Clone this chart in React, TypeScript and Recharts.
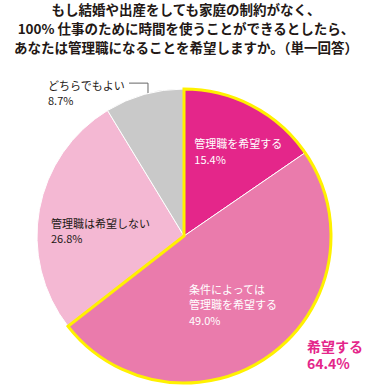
import React from 'react';
import { PieChart, Pie, Cell, Customized } from 'recharts';

const categories = ['管理職を希望する', '条件によっては管理職を希望する', '管理職は希望しない', 'どちらでもよい'];
const labelLines = [['管理職を希望する'], ['条件によっては', '管理職を希望する'], ['管理職は希望しない'], ['どちらでもよい']];
const values = [15.4, 49.0, 26.8, 8.7];
const groupNames = ['希望する', 'その他'];
const groupValues = [64.4, 35.5];
const titleLines = [
  'もし結婚や出産をしても家庭の制約がなく、',
  '100% 仕事のために時間を使うことができるとしたら、',
  'あなたは管理職になることを希望しますか。（単一回答）',
];

const colors = ['#E4268A', '#EA7BAC', '#F4B8D3', '#C9C9C9'];
const textColors = ['#ffffff', '#ffffff', '#231815', '#231815'];
const YELLOW = '#FFF100';
const FONT = '"Noto Sans CJK JP", "Noto Sans", sans-serif';

const data = categories.map((name, i) => ({ name, value: values[i], lines: labelLines[i] }));
const groupData = groupNames.map((name, i) => ({ name, value: groupValues[i] }));

// label anchor offsets (fraction of radius) for first line, relative to center
const labelOffsets = [
  [0.07, -0.63],
  [0.034, 0.36],
  [-0.905, -0.09],
  [-0.925, -1.03],
];

const CX = 184;
const CY = 236;
const R = 147;

const renderLabel = (props: any) => {
  const { cx, cy, outerRadius, index } = props;
  const d = data[index];
  const [fx, fy] = labelOffsets[index];
  const x = cx + fx * outerRadius;
  const y = cy + fy * outerRadius;
  const lines = [...d.lines, `${d.value.toFixed(1)}%`];
  return (
    <text x={x} y={y} fill={textColors[index]} fontSize={11} fontFamily={FONT} textAnchor="start" dominantBaseline="central">
      {lines.map((l, i) => (
        <tspan key={i} x={x} dy={i === 0 ? 0 : 15.5}>{l}</tspan>
      ))}
    </text>
  );
};

const Overlay = () => {
  const r = R;
  const p1 = [CX - 0.374 * r, CY - 1.04 * r];
  const p2 = [CX - 0.245 * r, CY - 1.04 * r];
  const p3 = [CX - 0.245 * r, CY - 0.918 * r];
  const gx = CX + 0.837 * r;
  const gy = CY + 0.75 * r;
  return (
    <g>
      {titleLines.map((t, i) => (
        <text key={i} x={186} y={9 + i * 19} textAnchor="middle" dominantBaseline="central" fontSize={13.5} fontWeight="bold" fill="#231815" fontFamily={FONT}>
          {t}
        </text>
      ))}
      <polyline points={`${p1[0]},${p1[1]} ${p2[0]},${p2[1]} ${p3[0]},${p3[1]}`} fill="none" stroke="#666" strokeWidth={1} />
      <text x={gx} y={gy} fill="#E4268A" fontSize={14} fontWeight="bold" fontFamily={FONT} dominantBaseline="central">
        {groupData[0].name}
      </text>
      <text x={gx} y={gy + 16.5} fill="#E4268A" fontSize={14} fontWeight="bold" fontFamily={FONT} dominantBaseline="central">
        {`${groupData[0].value.toFixed(1)}%`}
      </text>
    </g>
  );
};

export default function App() {
  return (
    <div style={{ position: 'absolute', left: 0, top: 0, width: 373, height: 386, background: '#fff' }}>
      <PieChart width={373} height={386} margin={{ top: 0, right: 0, bottom: 0, left: 0 }}>
        <Pie
          data={data}
          dataKey="value"
          nameKey="name"
          cx={CX}
          cy={CY}
          innerRadius={0}
          outerRadius={R}
          startAngle={90}
          endAngle={-270}
          stroke="#ffffff"
          strokeWidth={1}
          label={renderLabel}
          labelLine={false}
          isAnimationActive={false}
        >
          {data.map((d, i) => (
            <Cell key={d.name} fill={colors[i]} />
          ))}
        </Pie>
        <Pie
          data={groupData}
          dataKey="value"
          nameKey="name"
          cx={CX}
          cy={CY}
          innerRadius={0}
          outerRadius={R}
          startAngle={90}
          endAngle={-270}
          isAnimationActive={false}
          label={false}
          labelLine={false}
        >
          {groupData.map((d, i) => (
            <Cell key={d.name} fill="none" stroke={i === 0 ? YELLOW : 'none'} strokeWidth={i === 0 ? 3 : 0} />
          ))}
        </Pie>
        <Customized component={Overlay} />
      </PieChart>
    </div>
  );
}
